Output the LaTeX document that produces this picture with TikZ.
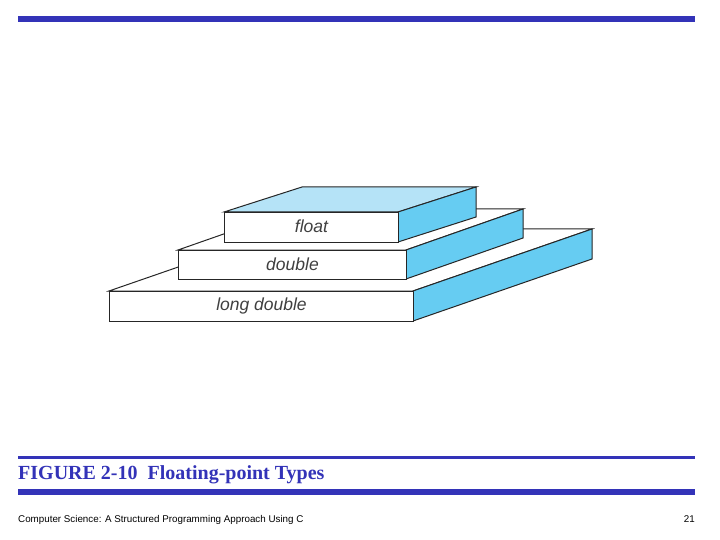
\documentclass[tikz,border=0pt]{standalone}
\usepackage{fontspec}
\setmainfont{Liberation Serif}
\setsansfont{Liberation Sans}
\begin{document}
\begin{tikzpicture}[x=1pt,y=-1pt,line join=miter,
  face/.style={draw=black!85,line width=1pt,fill=white},
  side/.style={draw=black!85,line width=1pt,fill=sideblue},
  lab/.style={font=\sffamily\itshape\fontsize{17.5}{17.5}\selectfont,text=black!75},
  bar/.style={fill=barblue,draw=none}]
\definecolor{barblue}{HTML}{3333B8}
\definecolor{sideblue}{HTML}{66CCF2}
\definecolor{topblue}{HTML}{B5E3F7}
\useasboundingbox (0,0) rectangle (720,540);
\fill[white] (0,0) rectangle (720,540);
\fill[bar] (18,16) rectangle (695,22);
% long double
\draw[face] (109,291) -- (288,229) -- (592,229) -- (413,291) -- cycle;
\draw[side] (413,291) -- (592,229) -- (592,259) -- (413,321) -- cycle;
\node[face,minimum width=304pt,minimum height=30pt,inner sep=0pt,anchor=north west] (ld) at (109,291) {};
\node[lab] at ([yshift=1pt]ld.center) {long double};
% double
\draw[face] (178,250) -- (295,209) -- (523,209) -- (406,250) -- cycle;
\draw[side] (406,250) -- (523,209) -- (523,238) -- (406,279) -- cycle;
\node[face,minimum width=228pt,minimum height=29pt,inner sep=0pt,anchor=north west] (db) at (178,250) {};
\node[lab] at ([yshift=1pt]db.center) {double};
% float
\draw[face,fill=topblue] (224,212) -- (302,187) -- (476,187) -- (398,212) -- cycle;
\draw[side] (398,212) -- (476,187) -- (476,217) -- (398,242) -- cycle;
\node[face,minimum width=174pt,minimum height=30pt,inner sep=0pt,anchor=north west] (fl) at (224,212) {};
\node[lab] at ([yshift=1pt]fl.center) {float};
% caption
\fill[bar] (18,456) rectangle (695,459);
\node[anchor=base west,inner sep=0pt,text=barblue,font=\bfseries\fontsize{20}{20}\selectfont] (cap) at (18,479) {FIGURE 2-10\ \ Floating-point Types};
\fill[bar] (18,489) rectangle (695,495);
\node[anchor=base west,inner sep=0pt,font=\sffamily\fontsize{9.8}{10}\selectfont] (ft) at (18,522) {Computer Science: A Structured Programming Approach Using C};
\node[anchor=base east,inner sep=0pt,font=\sffamily\fontsize{9.8}{10}\selectfont] (pg) at (695,522) {21};
\end{tikzpicture}
\end{document}
